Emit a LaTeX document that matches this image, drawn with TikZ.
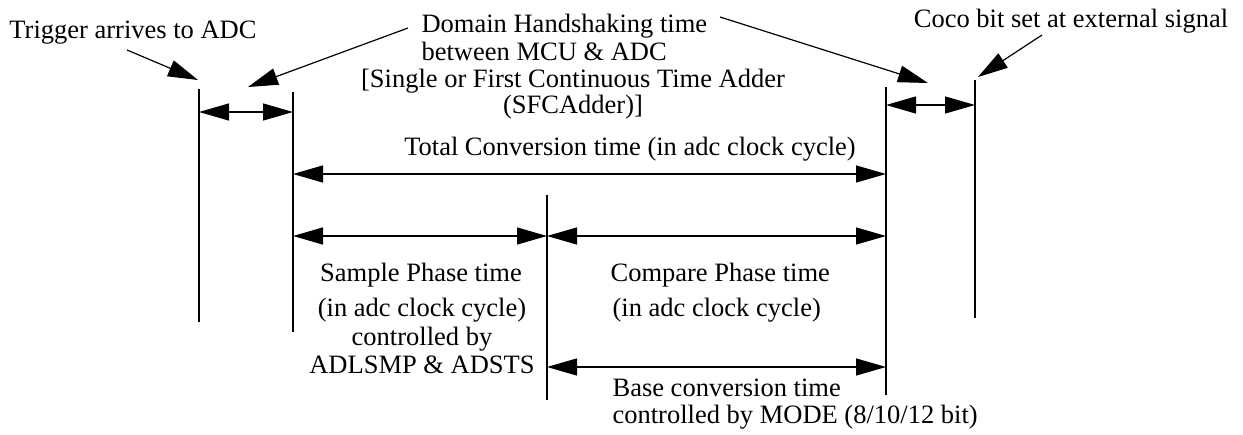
\documentclass[tikz,border=0pt]{standalone}
\usepackage{fontspec}
\setmainfont{Liberation Serif}
\usetikzlibrary{arrows.meta}

\begin{document}
\begin{tikzpicture}[x=1pt, y=-1pt, line width=1.2pt,
    font=\fontsize{26.5}{30}\selectfont,
    >={Triangle[length=30pt, width=17pt]},
    txt/.style={inner sep=0pt, anchor=base},
    txtl/.style={inner sep=0pt, anchor=base west},
    dimarrow/.style={<->},
    pointer/.style={->}]

        \useasboundingbox (0,0) rectangle (1243,434);

        % --- Linee verticali (istanti) ---
        \coordinate (trigTop) at (199,89);   \coordinate (trigBot) at (199,322);
        \coordinate (startTop) at (293,92);  \coordinate (startBot) at (293,332);
        \coordinate (phaseTop) at (547,195); \coordinate (phaseBot) at (547,400);
        \coordinate (endTop) at (886,87);    \coordinate (endBot) at (886,395);
        \coordinate (cocoTop) at (975,80);   \coordinate (cocoBot) at (975,318);

        \draw (trigTop) -- (trigBot);
        \draw (startTop) -- (startBot);
        \draw (phaseTop) -- (phaseBot);
        \draw (endTop) -- (endBot);
        \draw (cocoTop) -- (cocoBot);

        % --- Quote (frecce doppie) ---
        \coordinate (hsA) at (199,112);  \coordinate (hsB) at (293,112);
        \coordinate (hsC) at (886,105);  \coordinate (hsD) at (975,105);
        \coordinate (totA) at (293,174); \coordinate (totB) at (886,174);
        \coordinate (smpA) at (293,236); \coordinate (smpB) at (547,236);
        \coordinate (cmpA) at (547,236); \coordinate (cmpB) at (886,236);
        \coordinate (basA) at (547,367); \coordinate (basB) at (886,367);

        \draw[dimarrow] (hsA) -- (hsB);
        \draw[dimarrow] (hsC) -- (hsD);
        \draw[dimarrow] (totA) -- (totB);
        \draw[dimarrow] (smpA) -- (smpB);
        \draw[dimarrow] (cmpA) -- (cmpB);
        \draw[dimarrow] (basA) -- (basB);

        % --- Etichette in alto ---
        \node[txt] (trigger) at (133,38) {Trigger arrives to ADC};
        \node[txtl] (domain) at (421,32) {Domain Handshaking time};
        \node[txtl] (between) at (421,60) {between MCU \& ADC};
        \node[txt] (sfcA) at (573,87) {[Single or First Continuous Time Adder};
        \node[txt] (sfcB) at (573,113) {(SFCAdder)]};
        \node[txt] (coco) at (1071,27) {Coco bit set at external signal};
        \node[txt] (total) at (630,155) {Total Conversion time (in adc clock cycle)};

        % --- Etichette delle fasi ---
        \node[txt] (sample) at (421,281) {Sample Phase time};
        \node[txt] (sampleA) at (422,316) {(in adc clock cycle)};
        \node[txt] (sampleB) at (422,345) {controlled by};
        \node[txt] (sampleC) at (422,373) {ADLSMP \& ADSTS};
        \node[txtl] (compare) at (610,281) {Compare Phase time};
        \node[txtl] (compareA) at (612,316) {(in adc clock cycle)};
        \node[txtl] (baseA) at (612,396) {Base conversion time};
        \node[txtl] (baseB) at (612,423) {controlled by MODE (8/10/12 bit)};

        % --- Frecce di richiamo ---
        \coordinate (trigFrom) at (127,50);  \coordinate (trigTo) at (198,80);
        \coordinate (domFromL) at (408,28);  \coordinate (domToL) at (248,87);
        \coordinate (domFromR) at (720,17);  \coordinate (domToR) at (928,83);
        \coordinate (cocoFrom) at (1042,35); \coordinate (cocoTo) at (978,77);

        \draw[pointer] (trigFrom) -- (trigTo);
        \draw[pointer] (domFromL) -- (domToL);
        \draw[pointer] (domFromR) -- (domToR);
        \draw[pointer] (cocoFrom) -- (cocoTo);

\end{tikzpicture}
\end{document}
